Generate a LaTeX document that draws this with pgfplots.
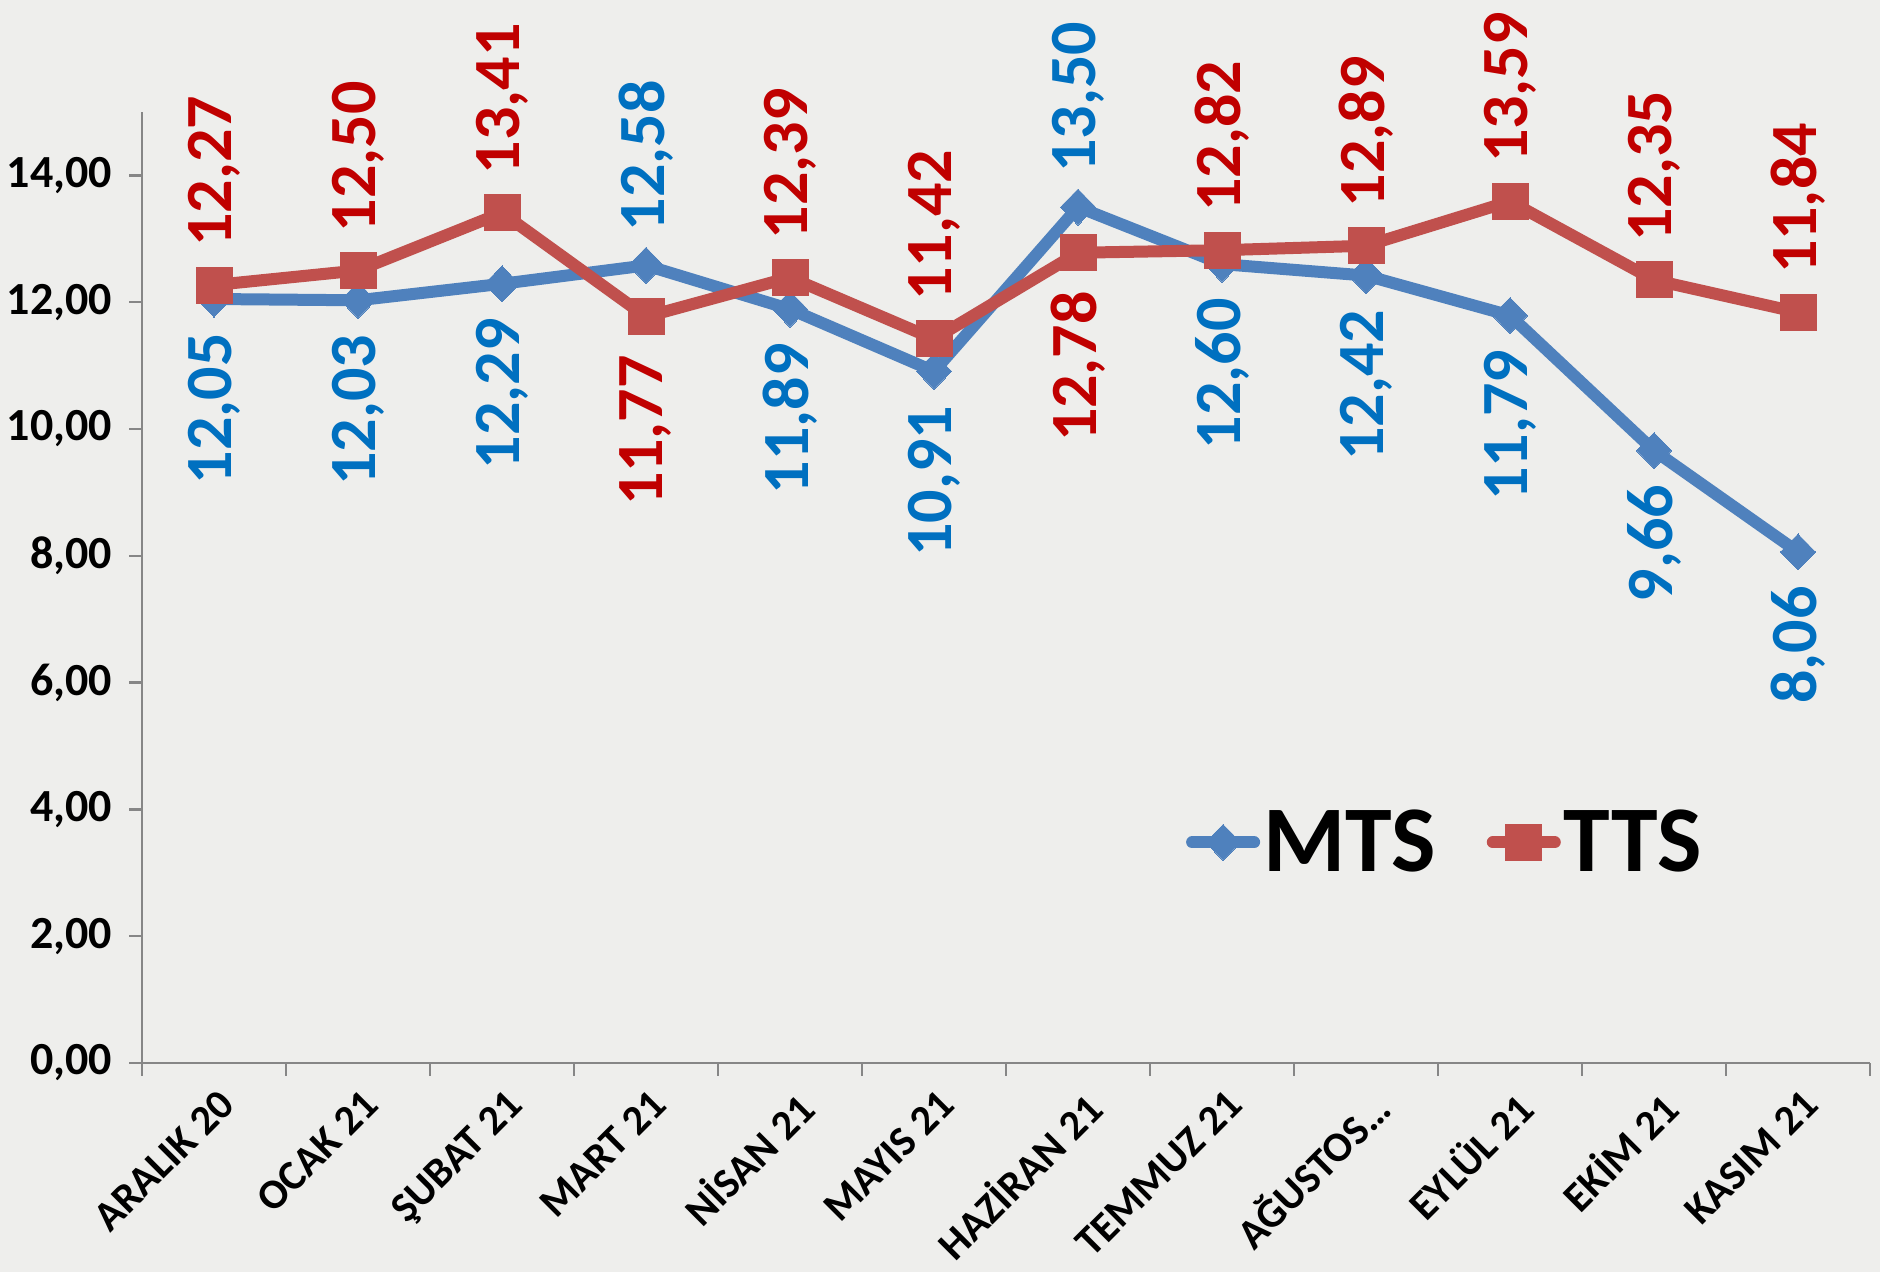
\documentclass[border=0pt]{standalone}
\usepackage{fontspec}
\setmainfont{Carlito}
\usepackage{pgfplots}
\pgfplotsset{compat=1.18}
\definecolor{mtsline}{HTML}{4F81BD}
\definecolor{ttsline}{HTML}{C0504D}
\definecolor{mtslab}{HTML}{0070C0}
\definecolor{ttslab}{HTML}{C00000}
\definecolor{bg}{HTML}{EEEEEC}
\definecolor{axgray}{HTML}{868686}
\pgfkeys{/pgf/number format/.cd, fixed, fixed zerofill, precision=2, use comma, 1000 sep={}, assume math mode=true}
\begin{document}
\begin{tikzpicture}
\path[use as bounding box, fill=bg] (0,0) rectangle (940pt,636pt);
\begin{axis}[
  at={(71pt,104.5pt)}, anchor=south west,
  scale only axis, width=864pt, height=475.5pt,
  xmin=-0.5, xmax=11.5, ymin=0, ymax=15,
  axis x line*=bottom, axis y line*=left,
  axis line style={axgray, line width=1.2pt},
  tick style={axgray, line width=1.2pt},
  tick align=outside, major tick length=6.5pt,
  clip=false,
  xtick={-0.5,0.5,...,11.5},
  x tick label as interval,
  xticklabels={{ARALIK 20},{OCAK 21},{ŞUBAT 21},{MART 21},{NİSAN 21},{MAYIS 21},{HAZİRAN 21},{TEMMUZ 21},{AĞUSTOS\ldots},{EYLÜL 21},{EKİM 21},{KASIM 21}},
  xticklabel style={rotate=45, anchor=north east, font=\fontsize{21}{25}\selectfont\bfseries, text=black, inner sep=5pt, xshift=2pt},
  ytick={0,2,...,14},
  yticklabel style={font=\fontsize{23}{27}\selectfont\bfseries, text=black, xshift=-5pt},
  legend style={at={(0.604,0.232)}, anchor=west, draw=none, fill=none, inner sep=0pt,
    font=\fontsize{47}{54}\selectfont\bfseries, legend columns=2,
    nodes={inner xsep=1.5pt},
    /tikz/every even column/.append style={column sep=24pt}},
  legend image code/.code={\draw[mark repeat=2,mark phase=2,#1] plot coordinates {(0pt,0pt) (15.5pt,0pt) (31pt,0pt)};},
]
% MTS line
\addplot[mtsline, line width=6pt, line join=round, line cap=round, mark=diamond*, mark size=9pt,
  mark options={solid, xscale=1.3, line width=0pt}] coordinates {
  (0,12.05) (1,12.03) (2,12.29) (3,12.58) (4,11.89) (5,10.91)
  (6,13.50) (7,12.60) (8,12.42) (9,11.79) (10,9.66) (11,8.06)};
\addlegendentry{MTS}
% TTS line
\addplot[ttsline, line width=6pt, line join=round, line cap=round, mark=square*, mark size=9pt,
  mark options={solid, line width=0pt}] coordinates {
  (0,12.27) (1,12.50) (2,13.41) (3,11.77) (4,12.39) (5,11.42)
  (6,12.78) (7,12.82) (8,12.89) (9,13.59) (10,12.35) (11,11.84)};
\addlegendentry{TTS}
% MTS labels below
\addplot[draw=none, mark=none, forget plot, nodes near coords,
  every node near coord/.append style={rotate=90, anchor=east, inner xsep=17pt, inner ysep=0pt,
  text=mtslab, font=\fontsize{33}{36}\selectfont\bfseries}] coordinates {
  (0,12.05) (1,12.03) (2,12.29) (4,11.89) (5,10.91)
  (7,12.60) (8,12.42) (9,11.79) (10,9.66) (11,8.06)};
% MTS labels above
\addplot[draw=none, mark=none, forget plot, nodes near coords,
  every node near coord/.append style={rotate=90, anchor=west, inner xsep=17pt, inner ysep=0pt,
  text=mtslab, font=\fontsize{33}{36}\selectfont\bfseries}] coordinates {
  (3,12.58) (6,13.50)};
% TTS labels above
\addplot[draw=none, mark=none, forget plot, nodes near coords,
  every node near coord/.append style={rotate=90, anchor=west, inner xsep=19pt, inner ysep=0pt,
  text=ttslab, font=\fontsize{33}{36}\selectfont\bfseries}] coordinates {
  (0,12.27) (1,12.50) (2,13.41) (4,12.39) (5,11.42)
  (7,12.82) (8,12.89) (9,13.59) (10,12.35) (11,11.84)};
% TTS labels below
\addplot[draw=none, mark=none, forget plot, nodes near coords,
  every node near coord/.append style={rotate=90, anchor=east, inner xsep=19pt, inner ysep=0pt,
  text=ttslab, font=\fontsize{33}{36}\selectfont\bfseries}] coordinates {
  (3,11.77) (6,12.78)};
\end{axis}
\end{tikzpicture}
\end{document}
